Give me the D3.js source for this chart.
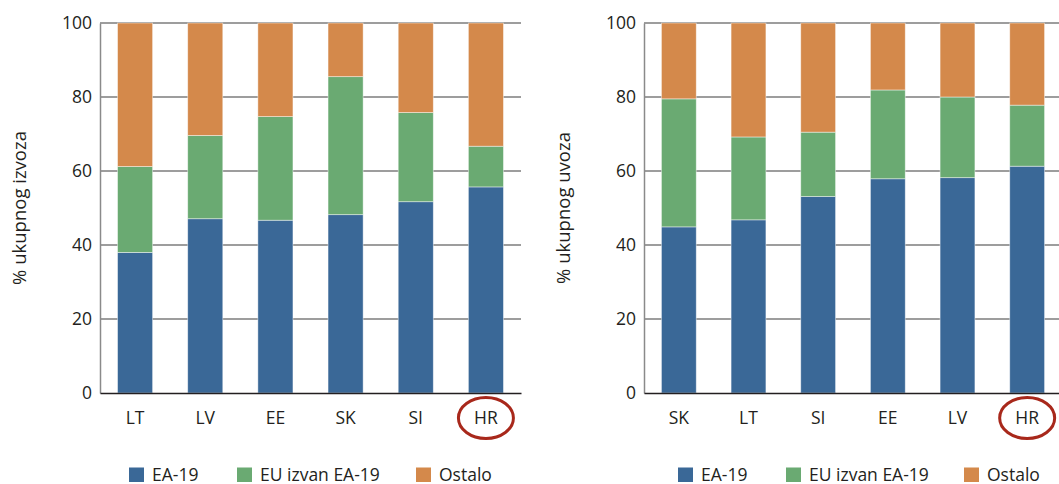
<!DOCTYPE html>
<html><head><meta charset="utf-8">
<script src="https://cdn.jsdelivr.net/npm/d3@7"></script>
<style>
body{margin:0;background:#fff;}
svg{display:block;}
text{font-family:"Open Sans","Noto Sans",sans-serif;fill:#231f20;}
</style></head>
<body>
<svg id="c" width="1059" height="484"></svg>
<script>
const series = ["EA-19", "EU izvan EA-19", "Ostalo"];
const colors = ["#3a6897", "#6aaa72", "#d4894b"];
const yTicks = [0, 20, 40, 60, 80, 100];

const exportCountries = ["LT", "LV", "EE", "SK", "SI", "HR"];
const exportEA = [38, 47.1, 46.7, 48.2, 51.7, 55.7];
const exportEU = [23.2, 22.5, 28.0, 37.3, 24.1, 11.0];

const importCountries = ["SK", "LT", "SI", "EE", "LV", "HR"];
const importEA = [44.9, 46.8, 53.1, 57.9, 58.2, 61.3];
const importEU = [34.6, 22.4, 17.4, 24.0, 21.8, 16.5];

const highlight = "HR";

const svg = d3.select("#c");

function drawPanel(cfg) {
  const g = svg.append("g");
  const x = d3.scaleBand().domain(cfg.cats).range([cfg.x0, cfg.x1]).paddingInner(0.5).paddingOuter(0.25);
  const y = d3.scaleLinear().domain([0, 100]).range([393, 23]);

  const rows = cfg.cats.map((c, i) => ({cat: c, s0: cfg.ea[i], s1: cfg.eu[i], s2: 100 - cfg.ea[i] - cfg.eu[i]}));
  const stacked = d3.stack().keys(["s0", "s1", "s2"])(rows);

  g.append("g").selectAll("line").data(yTicks.filter(t => t > 0)).join("line")
    .attr("x1", cfg.x0).attr("x2", cfg.x1)
    .attr("y1", d => y(d)).attr("y2", d => y(d))
    .attr("stroke", "#3c3c3c").attr("stroke-width", 1.1);

  g.append("g").selectAll("g").data(stacked).join("g")
    .attr("fill", (d, i) => colors[i])
    .selectAll("rect").data(d => d).join("rect")
    .attr("x", d => x(d.data.cat))
    .attr("width", x.bandwidth())
    .attr("y", d => y(d[1]))
    .attr("height", d => y(d[0]) - y(d[1]))
    .attr("stroke", "rgba(255,255,255,0.55)").attr("stroke-width", 0.8);

  const ya = d3.axisLeft(y).tickValues(yTicks).tickSize(0).tickPadding(8);
  const yg = g.append("g").attr("transform", `translate(${cfg.x0},0)`).call(ya);
  yg.select(".domain").attr("stroke", "#8a8a8a").attr("stroke-width", 1.5);
  yg.selectAll("text").attr("font-size", 17.5).style("font-family", "'Open Sans',sans-serif").attr("fill", "#231f20");

  const xa = d3.axisBottom(x).tickSize(0).tickPadding(19);
  const xg = g.append("g").attr("transform", "translate(0,393)").call(xa);
  xg.select(".domain").attr("stroke", "#231f20").attr("stroke-width", 1.5);
  xg.selectAll("text").attr("font-size", 17.5).style("font-family", "'Open Sans',sans-serif").attr("fill", "#231f20");

  g.append("ellipse")
    .attr("cx", x(highlight) + x.bandwidth() / 2)
    .attr("cy", 418).attr("rx", 27.5).attr("ry", 20.5)
    .attr("fill", "none").attr("stroke", "#a8281b").attr("stroke-width", 3);

  g.append("text")
    .attr("transform", `translate(${cfg.titleX},208) rotate(-90)`)
    .attr("text-anchor", "middle").attr("font-size", 18.5)
    .text(cfg.title);

  const lg = g.append("g").selectAll("g").data(series).join("g")
    .attr("transform", (d, i) => `translate(${cfg.legendX[i]},467.5)`);
  lg.append("rect").attr("width", 15).attr("height", 14.5).attr("fill", (d, i) => colors[i]);
  lg.append("text").attr("x", 23).attr("y", 13.5).attr("font-size", 17.5).text(d => d);
}

drawPanel({cats: exportCountries, ea: exportEA, eu: exportEU, x0: 100, x1: 521, titleX: 26,
  title: "% ukupnog izvoza", legendX: [129, 237, 416]});
drawPanel({cats: importCountries, ea: importEA, eu: importEU, x0: 644, x1: 1062, titleX: 570,
  title: "% ukupnog uvoza", legendX: [678, 786, 964]});
</script>
</body></html>
